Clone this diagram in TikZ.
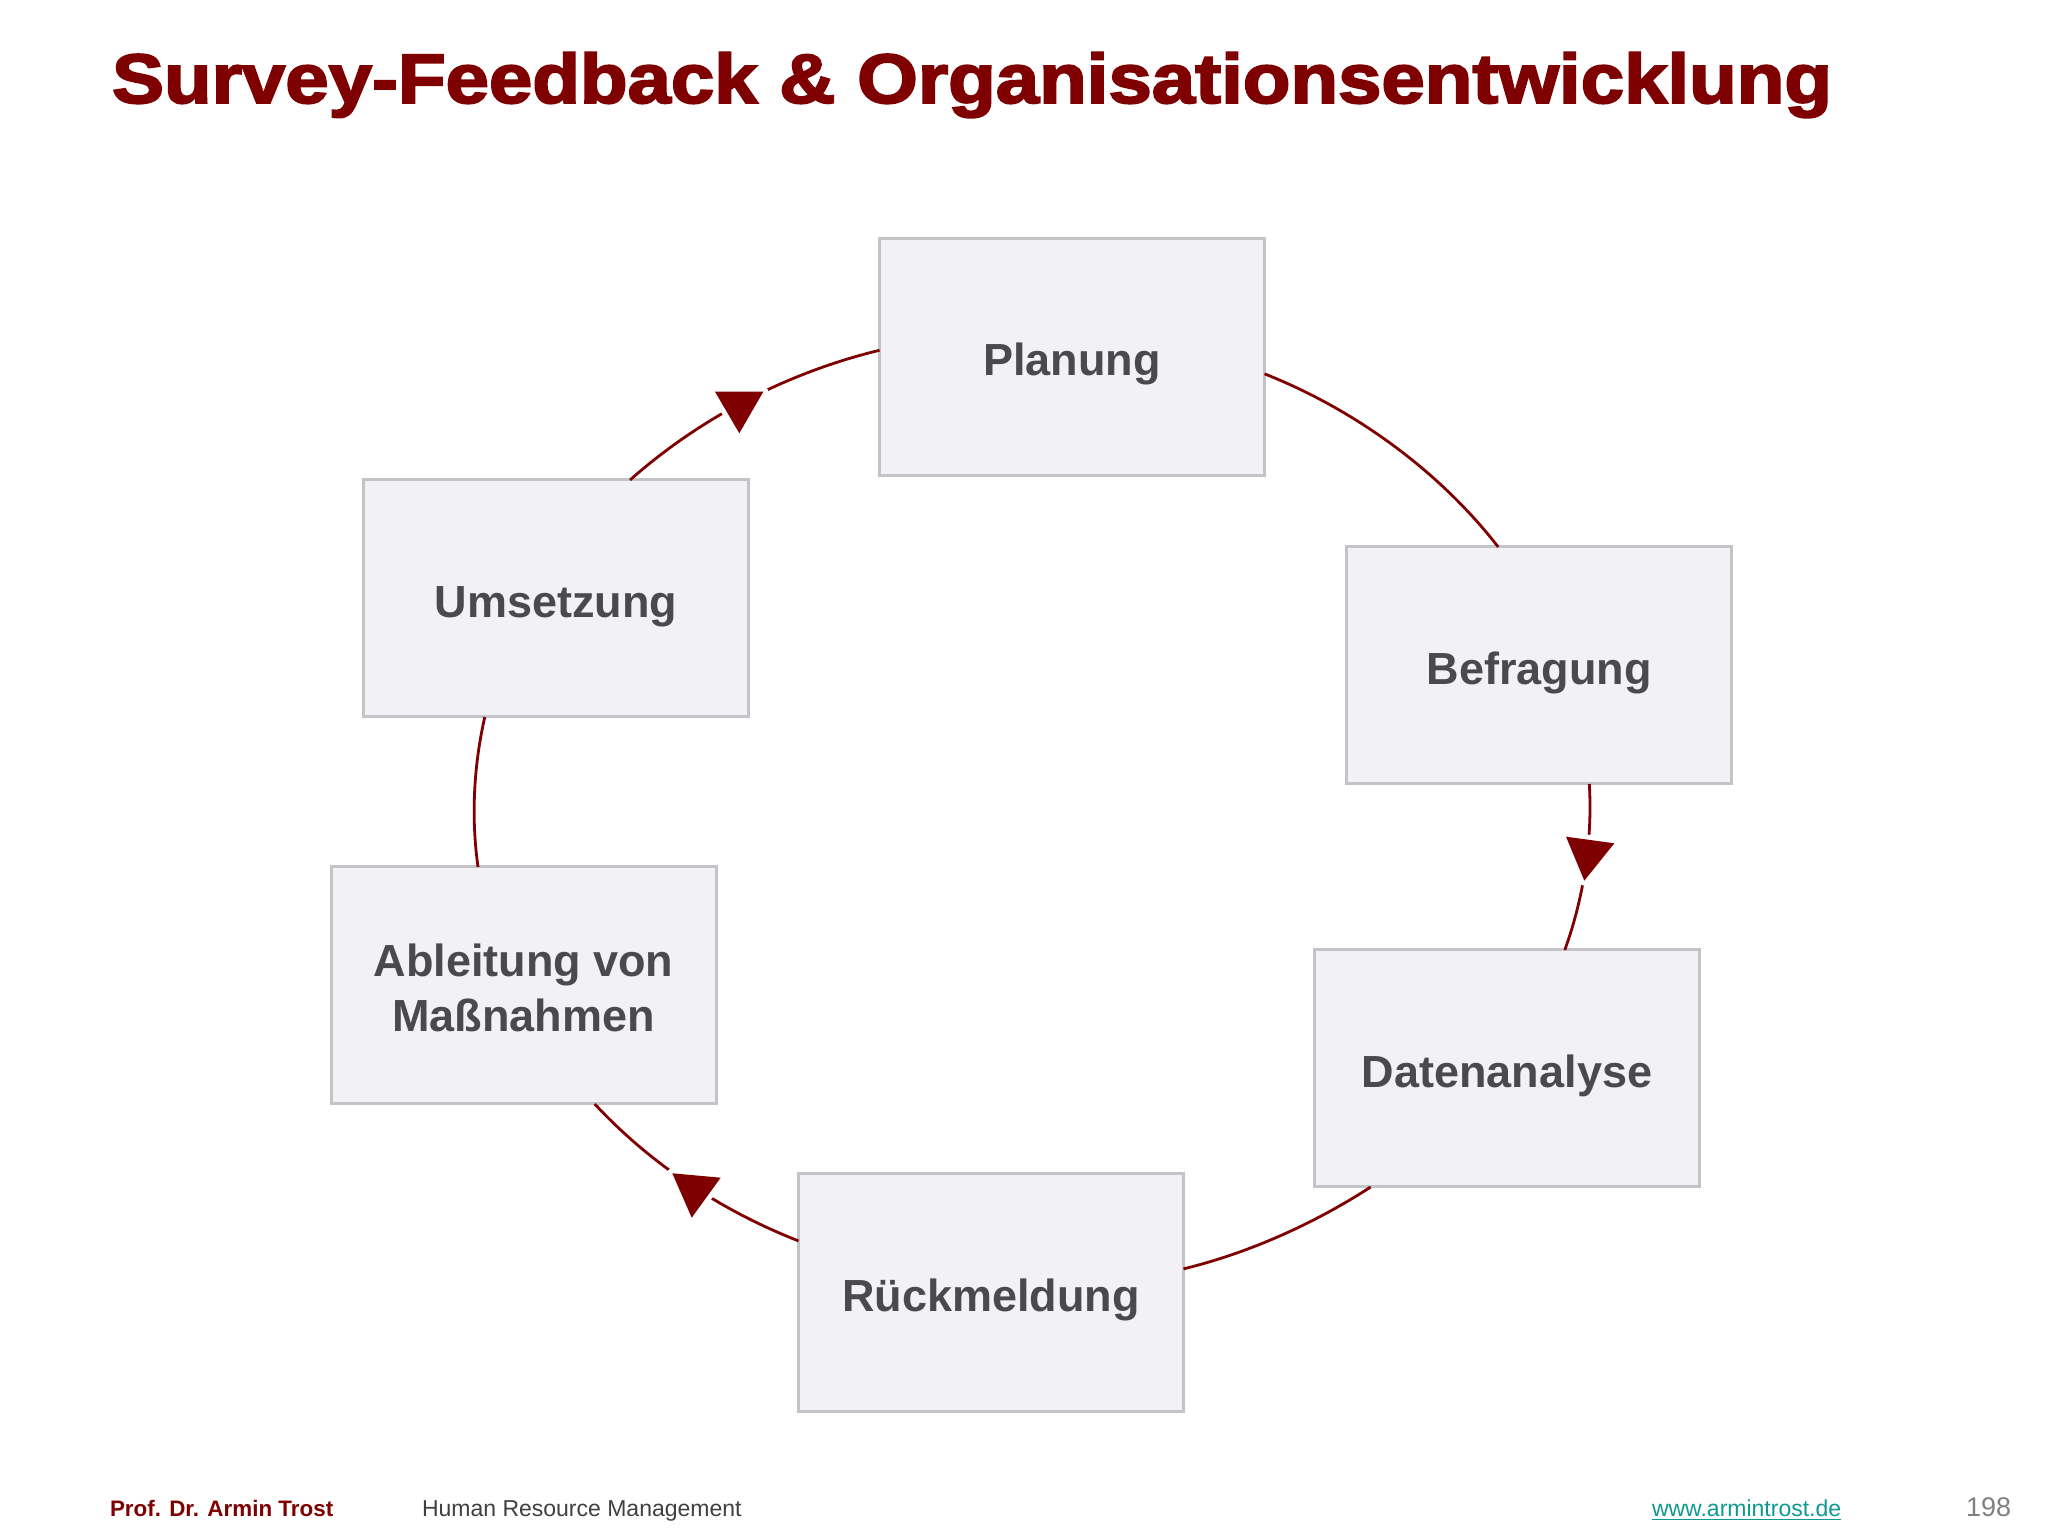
\documentclass[tikz,border=0pt]{standalone}
\usepackage{fontspec}
\usepackage{graphicx}
\setmainfont{Liberation Sans}
\newfontfamily\heavyfont{Liberation Sans}[BoldFeatures={FakeBold=2.6}]
\definecolor{darkred}{HTML}{7F0000}
\definecolor{boxfill}{HTML}{F2F1F4}
\definecolor{boxborder}{HTML}{C4C3C8}
\definecolor{boxtext}{HTML}{4A494E}
\definecolor{footgray}{HTML}{404040}
\definecolor{linkteal}{HTML}{0E9A93}
\definecolor{pagegray}{HTML}{808080}
\tikzset{
  stepbox/.style={draw=boxborder, fill=boxfill, line width=1.5pt,
    minimum width=192.5pt, minimum height=118.5pt, inner sep=0pt, outer sep=0pt,
    text=boxtext, align=center, text height=19pt, text depth=0pt,
    font=\fontsize{22.5}{27.5}\selectfont\bfseries},
  conn/.style={draw=darkred, line width=1.4pt},
  halo/.style={draw=white, fill=white, line width=5pt, line join=round},
  tip/.style={fill=darkred},
  foot/.style={anchor=base west, inner sep=0pt, outer sep=0pt}
}
\begin{document}
\begin{tikzpicture}[x=0.5pt, y=0.5pt]
\useasboundingbox (0,0) rectangle (2048,1536);
\fill[white] (0,0) rectangle (2048,1536);

% title
\node[foot, text=darkred] (title) at (112,1433)
  {\resizebox{860pt}{\height}{\fontsize{35}{40}\selectfont\heavyfont\bfseries Survey-Feedback \& Organisationsentwicklung}};

% boxes
\node[stepbox] (planung) at (1072,1179) {Planung};
\node[stepbox] (befragung) at (1539,870.5) {Befragung};
\node[stepbox] (datenanalyse) at (1507,467.5) {Datenanalyse};
\node[stepbox] (rueckmeldung) at (991,243.5) {Rückmeldung};
\node[stepbox, text height=46.5pt] (ableitung) at (523.5,550.5) {Ableitung von\\Maßnahmen};
\node[stepbox] (umsetzung) at (556,937.5) {Umsetzung};

% connectors (elliptical cycle)
\draw[conn] (planung.-5.9) to[out=-21.6, in=127.8, out distance=50.3pt, in distance=46.5pt] (befragung.109.8);
\draw[conn] (befragung.-67.7) to[out=-86.6, in=70.2, out distance=27.7pt, in distance=28.2pt] (datenanalyse.64.5);
\draw[conn] (datenanalyse.-139.2) to[out=-147.05, in=13.67, out distance=32.9pt, in distance=34.3pt] (rueckmeldung.7.6);
\draw[conn] (rueckmeldung.165.2) to[out=158.6, in=-47.1, out distance=42.6pt, in distance=39.9pt] (ableitung.-59.5);
\draw[conn] (ableitung.111.3) to[out=98.05, in=-102.86, out distance=24.9pt, in distance=25pt] (umsetzung.-121.3);
\draw[conn] (umsetzung.58.6) to[out=41.57, in=-166.33, out distance=45.7pt, in distance=48.8pt] (planung.178.3);

% arrow tips
\path[halo] (715,1144.3) -- (763.3,1144.3) -- (739.3,1102.7) -- cycle;
\fill[tip] (715,1144.3) -- (763.3,1144.3) -- (739.3,1102.7) -- cycle;
\path[halo] (1566,699.3) -- (1614.3,692.7) -- (1584.3,655.3) -- cycle;
\fill[tip] (1566,699.3) -- (1614.3,692.7) -- (1584.3,655.3) -- cycle;
\path[halo] (672.3,362.7) -- (720.7,358.3) -- (691.7,318.3) -- cycle;
\fill[tip] (672.3,362.7) -- (720.7,358.3) -- (691.7,318.3) -- cycle;

% footer
\node[foot, text=darkred, font=\fontsize{11.2}{13}\selectfont\bfseries] (author) at (110,20) {Prof. Dr. Armin Trost};
\node[foot, text=footgray, font=\fontsize{11.5}{13}\selectfont] (course) at (422,20) {Human Resource Management};
\node[foot, text=linkteal, font=\fontsize{11.5}{13}\selectfont] (url) at (1652,20) {\underline{www.armintrost.de}};
\node[foot, text=pagegray, font=\fontsize{13.5}{15}\selectfont] (page) at (1966,20) {198};
\end{tikzpicture}
\end{document}
